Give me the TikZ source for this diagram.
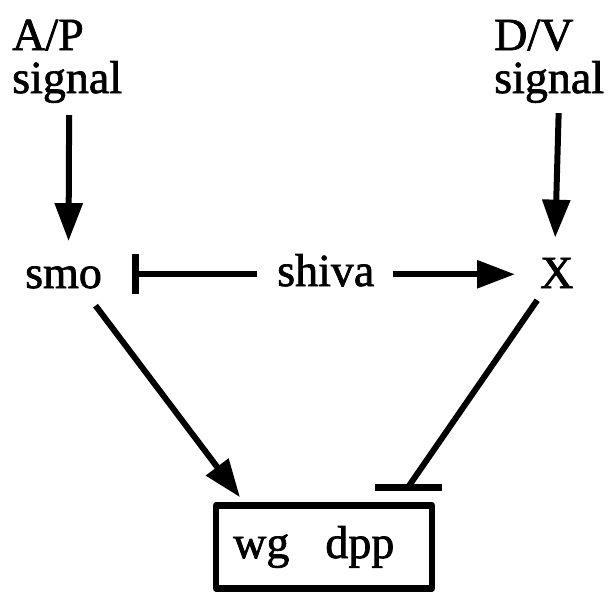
\documentclass[tikz,border=0pt]{standalone}
\usepackage{fontspec}
\setmainfont[FakeBold=1.5]{Liberation Serif}
\usetikzlibrary{arrows.meta,calc}
\begin{document}
\begin{tikzpicture}[x=1pt,y=-1pt,
  txt/.style={inner sep=0pt,anchor=base west,font=\fontsize{46}{48}\selectfont},
  arr/.style={line width=6pt,-{Triangle[length=38pt,width=27pt]}},
  inh/.style={line width=6pt,-{Bar[width=40pt,line width=7pt]}},
  plain/.style={line width=6pt},
  barline/.style={line width=7pt},
  genebox/.style={draw,line width=6.5pt,line join=round,inner sep=0pt}]
\useasboundingbox (0,0) rectangle (612,602);
\node[txt] (ap1) at (12,50) {A/P};
\node[txt] (ap2) at (12,93) {signal};
\node[txt] (dv1) at (494,50) {D/V};
\node[txt] (dv2) at (494,93) {signal};
\node[txt] (smo) at (25,288) {smo};
\node[txt] (shiva) at (277,286) {shiva};
\node[txt] (X) at (540,288) {X};
\node[genebox,minimum width=216pt,minimum height=83pt] (box) at (324,547) {};
\node[txt] (genes) at (233,558) {wg\hspace{36pt}dpp};
% signals
\draw[arr] ($(ap2.south)+(2,12)$) -- ($(smo.north)+(5,-25)$);
\draw[arr] ($(dv2.south)+(9.5,10)$) -- ($(X.north)+(-1.6,-20)$);
% shiva
\coordinate (s1) at ($(shiva.east)+(18,4)$);
\coordinate (s2) at ($(X.west)+(-25,0)$);
\draw[arr] (s1) -- (s1 -| s2);
\coordinate (s3) at ($(shiva.west)+(-20,4)$);
\coordinate (s4) at ($(smo.east)+(30,0)$);
\draw[inh] (s3) -- (s3 -| s4);
% to box
\draw[arr] ($(smo.south)+(32,17)$) -- ($(box.north)+(-84,-5)$);
\coordinate (b1) at ($(box.north)+(84,-15)$);
\draw[plain] ($(X.south)+(-19.6,12)$) -- (b1);
\draw[barline] ($(b1)+(-33,0)$) -- ($(b1)+(34,0)$);
\end{tikzpicture}
\end{document}
